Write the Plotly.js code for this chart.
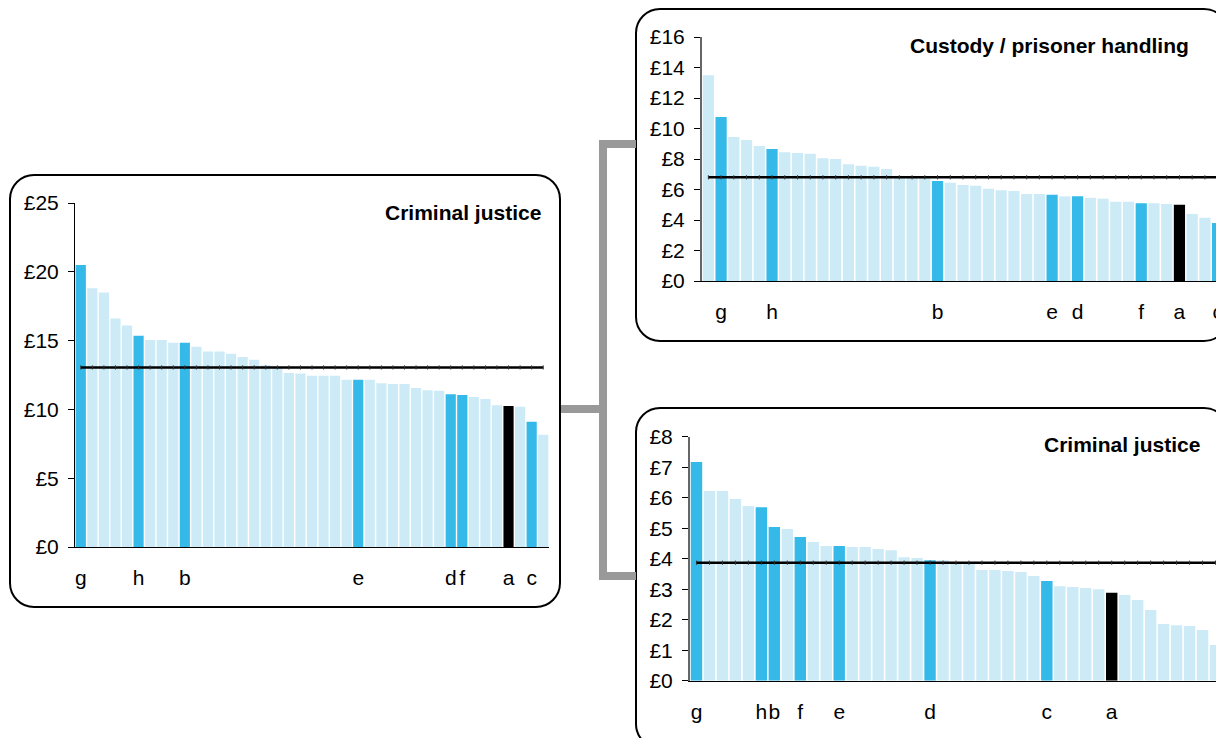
<!DOCTYPE html>
<html>
<head>
<meta charset="utf-8">
<script src="https://cdn.plot.ly/plotly-3.0.1.min.js"></script>
<style>
html, body { margin:0; padding:0; overflow:hidden; background:#fff; }
#chart { width:1240px; height:738px; }
</style>
</head>
<body>
<div id="chart"></div>
<script>
// ---------- DATA ----------
// Panel 1: Criminal justice (total)
const crimLabels = ['g','','','','','h','','','','b','','','','','','','','','','','','','','','e','','','','','','','','d','f','','','','a','','c',''];
const crimValues = [20.5,18.8,18.5,16.6,16.1,15.35,15.05,15.05,14.85,14.85,14.55,14.2,14.2,14.05,13.8,13.6,13.2,13.05,12.65,12.6,12.45,12.45,12.45,12.15,12.15,12.15,11.9,11.85,11.85,11.55,11.4,11.35,11.1,11.05,10.9,10.75,10.3,10.25,10.2,9.1,8.15];
const crimAverage = 13.05;

// Panel 2: Custody / prisoner handling
const custLabels = ['','g','','','','h','','','','','','','','','','','','','b','','','','','','','','','e','','d','','','','','f','','','a','','','c'];
const custValues = [13.5,10.75,9.45,9.25,8.85,8.65,8.45,8.4,8.35,8.05,8.0,7.65,7.55,7.5,7.35,6.9,6.85,6.8,6.55,6.45,6.3,6.25,6.05,5.95,5.9,5.7,5.7,5.65,5.55,5.55,5.45,5.4,5.2,5.2,5.1,5.1,5.05,5.0,4.4,4.15,3.8];
const custAverage = 6.8;

// Panel 3: Criminal justice (component)
const cj2Labels = ['g','','','','','h','b','','f','','','e','','','','','','','d','','','','','','','','','c','','','','','a','','','','','','','',''];
const cj2Values = [7.17,6.22,6.22,5.96,5.73,5.69,5.04,4.97,4.71,4.55,4.42,4.42,4.38,4.38,4.32,4.28,4.05,4.02,3.95,3.95,3.88,3.87,3.63,3.63,3.6,3.56,3.43,3.27,3.1,3.07,3.04,3.0,2.88,2.81,2.65,2.32,1.86,1.82,1.79,1.66,1.17];
const cj2Average = 3.87;

const titles = ['Criminal justice', 'Custody / prisoner handling', 'Criminal justice'];

// ---------- STYLE ----------
const LIGHT = '#cdebf7', DARK = '#35b9e8', BLACK = '#000000';
const FONT = 'Liberation Sans, Arial, Helvetica, sans-serif';
const W = 1240, H = 738;
const X = p => p / W, Y = p => 1 - p / H;

function colorsFor(labels) {
  return labels.map(l => l === 'a' ? BLACK : (l ? DARK : LIGHT));
}
function idx(arr) { return arr.map((_, i) => i); }

function barTrace(values, labels, n) {
  const s = n === 1 ? '' : String(n);
  return { type:'bar', x: idx(values), y: values, xaxis:'x'+s, yaxis:'y'+s,
    marker:{ color: colorsFor(labels), line:{width:0} }, hoverinfo:'skip', showlegend:false };
}
function avgTrace(values, avg, n) {
  const s = n === 1 ? '' : String(n);
  return { type:'scatter', mode:'lines+markers', x: idx(values), y: values.map(() => avg),
    xaxis:'x'+s, yaxis:'y'+s, line:{color:'#000', width:2.5},
    marker:{symbol:'line-ns', size:3, line:{width:1, color:'#333'}},
    hoverinfo:'skip', showlegend:false };
}

function xAxis(labels, d0, d1, yanchor) {
  const tv = [], tt = [];
  labels.forEach((l, i) => { if (l) { tv.push(i); tt.push(l); } });
  return { domain:[X(d0), X(d1)], range:[-0.5, labels.length - 0.5], anchor: yanchor,
    showline:true, linecolor:'#000', linewidth:1, showgrid:false, zeroline:false,
    tickmode:'array', tickvals: tv, ticktext: tt, ticks:'', ticklabelstandoff: 12,
    tickangle: 0, automargin:false,
    tickfont:{family:FONT, size:21, color:'#000'}, fixedrange:true };
}
function yAxis(top, bottom, max, dtick, xanchor, lc, lw) {
  return { domain:[Y(bottom), Y(top)], range:[0, max], dtick: dtick, anchor: xanchor,
    tickprefix:'£', showline:true, linecolor: lc, linewidth: lw, showgrid:false, zeroline:false,
    ticks:'outside', ticklen:6, tickcolor:'#000', tickwidth:1, ticklabelstandoff: 5,
    automargin:false,
    tickfont:{family:FONT, size:21, color:'#000'}, fixedrange:true };
}

function roundRect(x0, y0, x1, y1, r) {
  const k = 0.5523 * r;
  const P = (x, y) => X(x) + ',' + Y(y);
  return 'M' + P(x0 + r, y0) + ' L' + P(x1 - r, y0) +
    ' C' + P(x1 - r + k, y0) + ' ' + P(x1, y0 + r - k) + ' ' + P(x1, y0 + r) +
    ' L' + P(x1, y1 - r) +
    ' C' + P(x1, y1 - r + k) + ' ' + P(x1 - r + k, y1) + ' ' + P(x1 - r, y1) +
    ' L' + P(x0 + r, y1) +
    ' C' + P(x0 + r - k, y1) + ' ' + P(x0, y1 - r + k) + ' ' + P(x0, y1 - r) +
    ' L' + P(x0, y0 + r) +
    ' C' + P(x0, y0 + r - k) + ' ' + P(x0 + r - k, y0) + ' ' + P(x0 + r, y0) + ' Z';
}
function boxShape(x0, y0, x1, y1) {
  return { type:'path', xref:'paper', yref:'paper', path: roundRect(x0, y0, x1, y1, 24),
    line:{color:'#000', width:2}, fillcolor:'rgba(0,0,0,0)', layer:'below' };
}
const P = (x, y) => X(x) + ',' + Y(y);
const connector = { type:'path', xref:'paper', yref:'paper',
  path: 'M' + P(636,144) + ' L' + P(603,144) + ' L' + P(603,576) + ' L' + P(636,576) +
        ' M' + P(561,409) + ' L' + P(603,409),
  line:{color:'#999999', width:8}, fillcolor:'rgba(0,0,0,0)', layer:'below' };

function titleAnn(text, xr, yc) {
  return { text:'<b>' + text + '</b>', xref:'paper', yref:'paper', x: X(xr), y: Y(yc),
    xanchor:'right', yanchor:'middle', showarrow:false,
    font:{family:FONT, size:21, color:'#000'} };
}

const data = [
  barTrace(crimValues, crimLabels, 1), avgTrace(crimValues, crimAverage, 1),
  barTrace(custValues, custLabels, 2), avgTrace(custValues, custAverage, 2),
  barTrace(cj2Values, cj2Labels, 3), avgTrace(cj2Values, cj2Average, 3)
];

const layout = {
  width: W, height: H, margin:{l:0, r:0, t:0, b:0},
  paper_bgcolor:'#fff', plot_bgcolor:'rgba(0,0,0,0)',
  bargap: 0.12, showlegend:false,
  font:{family:FONT, size:21, color:'#000'},
  xaxis:  xAxis(crimLabels, 75, 549, 'y'),
  yaxis:  yAxis(203, 547, 25, 5, 'x', '#000', 1),
  xaxis2: xAxis(custLabels, 702, 1224, 'y2'),
  yaxis2: yAxis(37, 281, 16, 2, 'x2', '#666', 2),
  xaxis3: xAxis(cj2Labels, 690, 1222, 'y3'),
  yaxis3: yAxis(436.7, 680.7, 8, 1, 'x3', '#666', 2),
  shapes: [
    boxShape(10, 175, 560, 607),
    boxShape(636, 9, 1228, 341),
    boxShape(636, 408, 1228, 748),
    connector
  ],
  annotations: [
    titleAnn(titles[0], 543, 213),
    titleAnn(titles[1], 1191, 45),
    titleAnn(titles[2], 1202, 444)
  ]
};

Plotly.newPlot('chart', data, layout, {staticPlot:true, displayModeBar:false});
</script>
</body>
</html>
